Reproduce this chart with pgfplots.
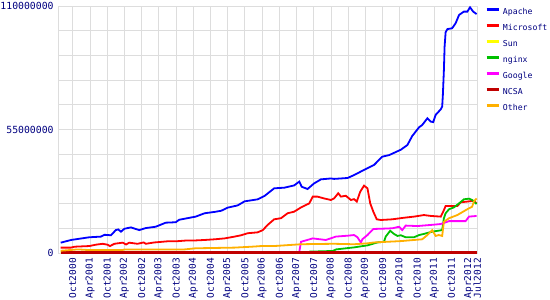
\documentclass[border=0pt]{standalone}
\usepackage{pgfplots}
\pgfplotsset{compat=1.18}
\usepackage{fontspec}
\setmonofont{DejaVu Sans Mono}
\definecolor{navy}{RGB}{0,0,128}
\definecolor{gridgray}{RGB}{221,221,221}
\definecolor{cApache}{RGB}{0,0,255}
\definecolor{cMicrosoft}{RGB}{255,0,0}
\definecolor{cSun}{RGB}{255,255,0}
\definecolor{cNginx}{RGB}{0,192,0}
\definecolor{cGoogle}{RGB}{255,0,255}
\definecolor{cNCSA}{RGB}{192,0,0}
\definecolor{cOther}{RGB}{255,176,0}
\begin{document}
\begin{tikzpicture}
\path[use as bounding box] (-58.3pt,-47pt) rectangle (491.7pt,253pt);
\begin{axis}[
  at={(0pt,0pt)}, anchor=south west,
  scale only axis, width=419pt, height=247pt,
  xmin=2000.33, xmax=2012.5, ymin=0, ymax=110,
  xtick={2000.75,2001.25,2001.75,2002.25,2002.75,2003.25,2003.75,2004.25,2004.75,2005.25,2005.75,2006.25,2006.75,2007.25,2007.75,2008.25,2008.75,2009.25,2009.75,2010.25,2010.75,2011.25,2011.75,2012.25,2012.5},
  xticklabels={Oct2000,Apr2001,Oct2001,Apr2002,Oct2002,Apr2003,Oct2003,Apr2004,Oct2004,Apr2005,Oct2005,Apr2006,Oct2006,Apr2007,Oct2007,Apr2008,Oct2008,Apr2009,Oct2009,Apr2010,Oct2010,Apr2011,Oct2011,Apr2012,Jul2012},
  ytick={0,11,22,33,44,55,66,77,88,99,110},
  yticklabels={\texttt{0},,,,,\texttt{55000000},,,,,\texttt{110000000}},
  grid=major,
  major grid style={draw=gridgray, line width=0.9pt},
  axis line style={draw=gridgray, line width=0.9pt},
  major tick length=0pt,
  tick label style={text=navy},
  xticklabel style={rotate=90, anchor=east, inner xsep=5pt, inner ysep=0pt, font=\fontsize{9.5}{10}\ttfamily},
  yticklabel style={anchor=east, inner xsep=4.5pt, inner ysep=0pt, font=\fontsize{9.8}{10}\ttfamily},
  clip=false,
  legend cell align=left,
  legend image code/.code={\draw[#1, line width=3pt] (0pt,2.8pt) -- (12pt,2.8pt);},
  legend style={at={(1,1)}, anchor=north west, xshift=7.5pt, yshift=-2pt,
    draw=none, fill=none, inner sep=0pt, text=navy,
    font=\fontsize{8.2}{9}\ttfamily, row sep=8.2pt, column sep=3pt,
    nodes={inner sep=0pt, text height=6pt, text depth=1pt}},
]
% Apache
\addplot[cApache, line width=1.8pt] coordinates {
(2000.40,4.6)(2000.70,5.8)(2001.23,7.0)(2001.57,7.3)(2001.67,8.1)(2001.86,7.9)(2002.00,10.2)(2002.07,10.5)(2002.15,9.5)(2002.25,10.8)(2002.44,11.4)(2002.68,10.2)(2002.87,11.1)(2003.16,11.7)(2003.45,13.5)(2003.74,13.7)(2003.84,14.8)(2004.32,16.2)(2004.58,17.7)(2004.87,18.3)(2005.06,18.8)(2005.25,20.2)(2005.54,21.2)(2005.74,23.0)(2006.12,23.9)(2006.32,25.4)(2006.60,28.8)(2006.90,29.1)(2007.18,30.1)(2007.33,31.8)(2007.40,29.5)(2007.57,28.5)(2007.76,31.0)(2007.96,32.8)(2008.25,33.2)(2008.34,33.0)(2008.73,33.4)(2008.92,34.7)(2009.21,37.0)(2009.50,39.2)(2009.74,42.9)(2009.94,43.6)(2010.28,46.0)(2010.47,48.1)(2010.61,52.1)(2010.81,56.0)(2010.90,57.0)(2011.05,60.0)(2011.15,58.5)(2011.22,58.3)(2011.29,61.5)(2011.44,64.0)(2011.48,65.2)(2011.50,70.4)(2011.53,81.5)(2011.55,91.9)(2011.58,98.3)(2011.63,99.7)(2011.77,100.1)(2011.87,102.3)(2011.97,106.0)(2012.11,107.5)(2012.21,107.5)(2012.29,109.4)(2012.38,107.5)(2012.48,106.4)
};
\addlegendentry{Apache}
% Microsoft
\addplot[cMicrosoft, line width=1.8pt] coordinates {
(2000.40,2.4)(2000.70,2.4)(2000.80,2.8)(2001.23,3.1)(2001.42,3.7)(2001.62,4.1)(2001.76,3.7)(2001.83,3.1)(2001.96,4.1)(2002.20,4.6)(2002.30,3.8)(2002.39,4.6)(2002.63,4.1)(2002.81,4.7)(2002.87,4.1)(2003.12,4.7)(2003.50,5.2)(2003.74,5.2)(2004.08,5.6)(2004.32,5.6)(2004.58,5.8)(2004.87,6.1)(2005.16,6.5)(2005.45,7.3)(2005.64,7.9)(2005.83,8.8)(2006.12,9.2)(2006.27,10.2)(2006.41,12.5)(2006.60,15.0)(2006.80,15.5)(2006.99,17.7)(2007.18,18.4)(2007.38,20.3)(2007.62,22.1)(2007.72,25.1)(2007.86,25.1)(2008.05,24.3)(2008.25,23.6)(2008.34,24.3)(2008.46,26.6)(2008.54,25.1)(2008.68,25.5)(2008.83,23.6)(2008.92,24.0)(2009.00,22.9)(2009.10,27.3)(2009.21,30.0)(2009.31,28.8)(2009.39,22.1)(2009.48,18.4)(2009.58,15.0)(2009.70,14.7)(2010.03,15.0)(2010.37,15.7)(2010.66,16.2)(2010.95,16.9)(2011.15,16.5)(2011.44,16.2)(2011.51,18.4)(2011.58,20.9)(2011.73,20.9)(2011.92,20.9)(2012.02,22.6)(2012.21,22.9)(2012.40,23.3)(2012.48,22.1)
};
\addlegendentry{Microsoft}
% Sun
\addplot[cSun, line width=1.8pt] coordinates {
(2000.40,0.3)(2004.00,0.3)(2008.00,0.3)(2012.48,0.2)
};
\addlegendentry{Sun}
% nginx
\addplot[cNginx, line width=1.8pt] coordinates {
(2007.62,0.6)(2008.30,0.9)(2008.40,1.6)(2008.92,2.5)(2009.31,3.4)(2009.60,4.7)(2009.79,5.0)(2009.84,7.3)(2009.97,9.9)(2010.08,8.5)(2010.18,7.6)(2010.28,7.9)(2010.42,7.0)(2010.66,7.0)(2010.81,8.0)(2010.95,8.5)(2011.19,9.5)(2011.48,10.2)(2011.53,15.5)(2011.58,17.7)(2011.68,19.5)(2011.82,20.3)(2011.97,22.1)(2012.11,23.9)(2012.26,24.2)(2012.35,23.6)(2012.48,21.8)
};
\addlegendentry{nginx}
% Google
\addplot[cGoogle, line width=1.8pt] coordinates {
(2007.33,0.6)(2007.38,5.0)(2007.72,6.5)(2008.10,5.8)(2008.39,7.3)(2008.73,7.7)(2008.92,8.0)(2009.02,7.0)(2009.12,4.6)(2009.16,6.1)(2009.31,8.0)(2009.48,10.7)(2009.70,10.8)(2010.03,11.0)(2010.23,11.7)(2010.32,10.2)(2010.42,12.2)(2010.76,12.0)(2011.15,12.5)(2011.44,12.9)(2011.68,14.2)(2012.16,14.2)(2012.26,16.2)(2012.48,16.5)
};
\addlegendentry{Google}
% NCSA
\addplot[cNCSA, line width=2.6pt] coordinates {
(2000.40,0.35)(2004.00,0.35)(2008.00,0.35)(2012.48,0.35)
};
\addlegendentry{NCSA}
% Other
\addplot[cOther, line width=1.8pt] coordinates {
(2000.40,1.0)(2000.90,1.6)(2001.23,1.3)(2002.20,1.3)(2002.25,1.6)(2004.00,1.6)(2004.32,2.1)(2005.45,2.4)(2005.94,2.8)(2006.23,3.1)(2006.60,3.1)(2007.09,3.6)(2007.38,3.9)(2007.76,4.0)(2008.34,4.1)(2008.92,3.9)(2009.31,4.3)(2009.50,4.7)(2010.28,5.3)(2010.66,5.8)(2010.90,6.1)(2011.05,8.0)(2011.19,10.2)(2011.29,7.6)(2011.38,8.0)(2011.48,7.6)(2011.53,13.9)(2011.68,15.5)(2011.92,16.9)(2012.21,19.5)(2012.35,20.6)(2012.40,22.9)(2012.48,24.3)
};
\addlegendentry{Other}
\end{axis}
\end{tikzpicture}
\end{document}
